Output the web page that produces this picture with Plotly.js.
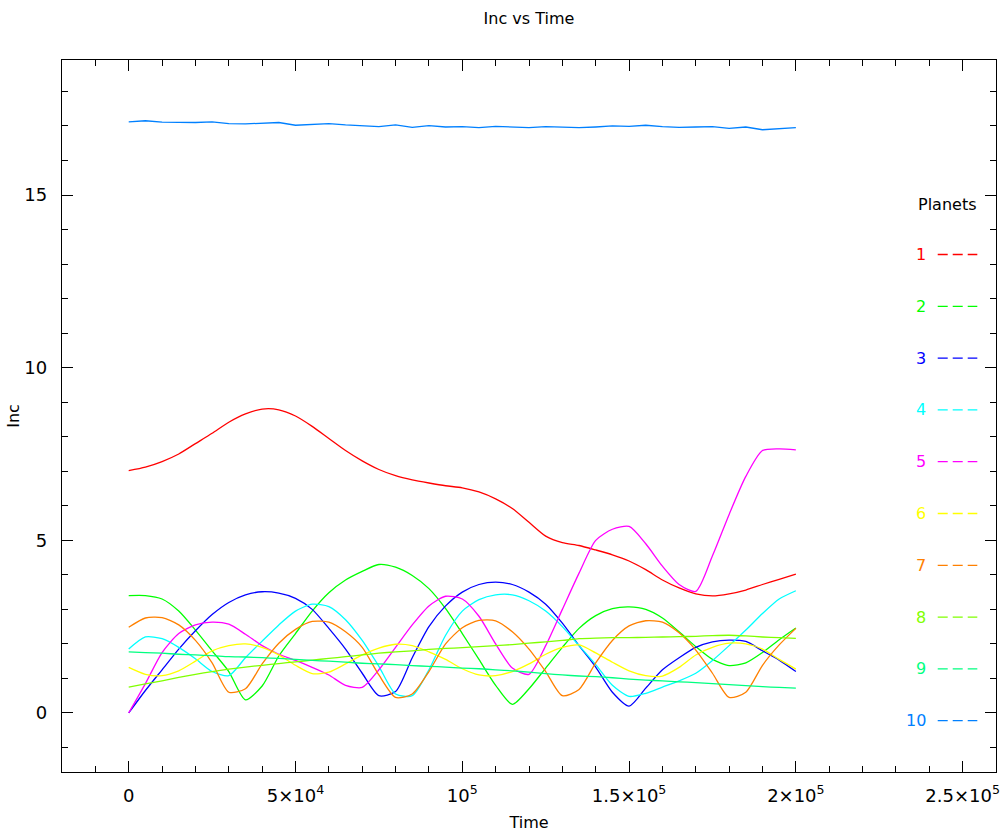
<!DOCTYPE html>
<html>
<head>
<meta charset="utf-8">
<script src="https://cdn.plot.ly/plotly-3.0.1.min.js"></script>
<style>html,body{margin:0;padding:0;background:#fff;}#chart{width:1007px;height:832px;}</style>
</head>
<body>
<div id="chart"></div>
<script>
// Time samples (years)
const time = [0,5000,10000,15000,20000,25000,30000,35000,40000,45000,50000,55000,60000,65000,70000,75000,80000,85000,90000,95000,100000,105000,110000,115000,120000,125000,130000,135000,140000,145000,150000,155000,160000,165000,170000,175000,180000,185000,190000,195000,200000];

const planetNames = ['1','2','3','4','5','6','7','8','9','10'];
const planetColors = ['#ff0000','#00ff00','#0000ff','#00ffff','#ff00ff','#ffff00','#ff8000','#80ff00','#00ff80','#0080ff'];

const inc1 = [7.02,7.12,7.28,7.5,7.8,8.1,8.42,8.66,8.8,8.78,8.6,8.3,7.95,7.6,7.3,7.05,6.87,6.75,6.66,6.58,6.52,6.4,6.2,5.92,5.52,5.12,4.93,4.85,4.72,4.58,4.4,4.15,3.85,3.62,3.45,3.39,3.45,3.56,3.72,3.87,4.02];
const inc2 = [3.4,3.4,3.3,2.95,2.4,1.8,1.2,0.38,0.78,1.65,2.3,2.95,3.48,3.85,4.1,4.3,4.22,3.98,3.6,3.02,2.3,1.55,0.8,0.25,0.7,1.3,1.9,2.45,2.82,3.02,3.07,3.0,2.75,2.35,1.92,1.55,1.37,1.45,1.75,2.12,2.46];
const inc3 = [0,0.65,1.25,1.85,2.38,2.85,3.2,3.42,3.51,3.47,3.32,3.0,2.45,1.85,1.15,0.5,0.62,1.6,2.5,3.1,3.5,3.72,3.79,3.72,3.5,3.15,2.6,1.95,1.33,0.6,0.2,0.72,1.25,1.6,1.9,2.06,2.11,2.07,1.8,1.53,1.2];
const inc4 = [1.85,2.2,2.15,1.9,1.57,1.2,1.08,1.6,2.08,2.55,2.95,3.15,3.08,2.7,2.1,1.35,0.55,0.5,1.25,2.25,2.95,3.28,3.42,3.42,3.25,2.95,2.5,1.95,1.4,0.8,0.48,0.57,0.75,0.93,1.15,1.52,1.95,2.4,2.88,3.3,3.54];
const inc5 = [0,0.85,1.75,2.3,2.55,2.63,2.57,2.28,1.95,1.7,1.52,1.32,1.1,0.8,0.74,1.25,1.9,2.55,3.1,3.38,3.3,2.8,2.0,1.3,1.12,1.95,3.0,4.05,5.0,5.32,5.4,4.9,4.25,3.72,3.52,4.55,5.75,6.85,7.6,7.65,7.62];
const inc6 = [1.32,1.12,1.08,1.22,1.5,1.8,1.95,2.0,1.9,1.68,1.38,1.14,1.18,1.42,1.68,1.88,1.99,1.95,1.77,1.55,1.28,1.1,1.08,1.2,1.42,1.7,1.9,1.97,1.74,1.47,1.22,1.08,1.07,1.32,1.68,1.9,2.02,2.0,1.85,1.55,1.27];
const inc7 = [2.48,2.75,2.76,2.55,2.1,1.45,0.6,0.7,1.42,2.02,2.42,2.65,2.63,2.35,1.9,1.1,0.45,0.55,1.2,2.0,2.47,2.68,2.67,2.35,1.85,1.2,0.5,0.68,1.45,2.1,2.52,2.67,2.63,2.32,1.82,1.15,0.45,0.6,1.38,1.97,2.45];
const inc8 = [0.75,0.84,0.93,1.03,1.12,1.2,1.27,1.33,1.38,1.43,1.48,1.53,1.58,1.63,1.68,1.73,1.77,1.8,1.84,1.87,1.89,1.92,1.95,1.98,2.02,2.06,2.1,2.15,2.17,2.18,2.18,2.19,2.2,2.21,2.22,2.24,2.25,2.23,2.2,2.18,2.16];
const inc9 = [1.77,1.75,1.73,1.7,1.68,1.66,1.63,1.62,1.6,1.58,1.55,1.52,1.5,1.47,1.44,1.42,1.4,1.37,1.35,1.33,1.3,1.28,1.25,1.22,1.18,1.14,1.1,1.07,1.05,1.02,0.98,0.95,0.93,0.9,0.88,0.85,0.82,0.79,0.76,0.74,0.72];
const inc10 = [17.12,17.15,17.11,17.1,17.1,17.12,17.07,17.06,17.08,17.1,17.02,17.05,17.07,17.03,17.0,16.98,17.03,16.96,17.01,16.97,16.98,16.95,16.99,16.96,16.95,16.98,16.96,16.95,16.97,17.0,16.99,17.02,16.98,16.96,16.97,16.98,16.93,16.97,16.89,16.93,16.95];

const xTickVals = [0,50000,100000,150000,200000,250000];
const xTickText = ['0','5\u00d710<sup>4</sup>','10<sup>5</sup>','1.5\u00d710<sup>5</sup>','2\u00d710<sup>5</sup>','2.5\u00d710<sup>5</sup>'];
const yTickVals = [0,5,10,15];
const yTickText = ['0','5','10','15'];

const series = [inc1,inc2,inc3,inc4,inc5,inc6,inc7,inc8,inc9,inc10];
const FONT = 'DejaVu Sans, Liberation Sans, sans-serif';
const TICKSIZE = 18, TEXTSIZE = 16;

const traces = series.map((vals, i) => ({
  x: time, y: vals, type: 'scatter', mode: 'lines', name: planetNames[i],
  line: {color: planetColors[i], width: 1.3, shape: i === 9 ? 'linear' : 'spline', smoothing: 0.7},
  hoverinfo: 'skip'
}));

// Legend (number then dashed line), drawn as annotations and shapes
const plotTop = 60, plotBottom = 772, plotH = plotBottom - plotTop;
const annotations = [{
  xref: 'paper', yref: 'paper', x: 0.948, y: (plotBottom - 204) / plotH,
  text: 'Planets', showarrow: false, xanchor: 'center', yanchor: 'middle',
  font: {family: FONT, size: TEXTSIZE, color: '#000'}
}];
const shapes = [];
planetNames.forEach((nm, i) => {
  const yp = (plotBottom - (254.5 + i * 51.8)) / plotH;
  annotations.push({xref: 'paper', yref: 'paper', x: 0.927, y: yp, text: nm, showarrow: false,
    xanchor: 'right', yanchor: 'middle', font: {family: FONT, size: TEXTSIZE, color: planetColors[i]}});
  shapes.push({type: 'line', xref: 'paper', yref: 'paper', x0: 0.9376, x1: 0.980, y0: yp, y1: yp,
    line: {color: planetColors[i], width: 1.3, dash: '10px,5px'}});
});

const layout = {
  width: 1007, height: 832,
  margin: {l: 62, r: 11, t: 60, b: 60, pad: 0},
  paper_bgcolor: '#fff', plot_bgcolor: '#fff',
  showlegend: false,
  font: {family: FONT, size: TEXTSIZE, color: '#000'},
  title: {text: 'Inc vs Time', x: 0.5, xref: 'paper', xanchor: 'center', y: 1 - 18 / 832, yref: 'container', yanchor: 'middle',
    font: {family: FONT, size: TEXTSIZE, color: '#000'}},
  xaxis: {
    range: [-20000, 260000], tickmode: 'array', tickvals: xTickVals, ticktext: xTickText,
    ticks: 'inside', ticklen: 11, tickwidth: 1, tickcolor: '#000',
    showline: true, linecolor: '#000', linewidth: 1.2, mirror: 'ticks',
    showgrid: false, zeroline: false, ticklabelstandoff: 7,
    minor: {tickmode: 'linear', tick0: 0, dtick: 10000, ticks: 'inside', ticklen: 6, tickwidth: 1, tickcolor: '#000', showgrid: false},
    tickfont: {family: FONT, size: TICKSIZE, color: '#000'},
    title: {text: 'Time', standoff: 16, font: {family: FONT, size: TEXTSIZE, color: '#000'}}
  },
  yaxis: {
    range: [-1.71, 18.91], tickmode: 'array', tickvals: yTickVals, ticktext: yTickText,
    ticks: 'inside', ticklen: 11, tickwidth: 1, tickcolor: '#000',
    showline: true, linecolor: '#000', linewidth: 1.2, mirror: 'ticks',
    showgrid: false, zeroline: false, ticklabelstandoff: 10,
    minor: {tickmode: 'linear', tick0: 0, dtick: 1, ticks: 'inside', ticklen: 6, tickwidth: 1, tickcolor: '#000', showgrid: false},
    tickfont: {family: FONT, size: TICKSIZE, color: '#000'},
    title: {text: 'Inc', standoff: 0, font: {family: FONT, size: TEXTSIZE, color: '#000'}}
  },
  annotations: annotations,
  shapes: shapes
};

Plotly.newPlot('chart', traces, layout, {displayModeBar: false, staticPlot: true});
</script>
</body>
</html>
